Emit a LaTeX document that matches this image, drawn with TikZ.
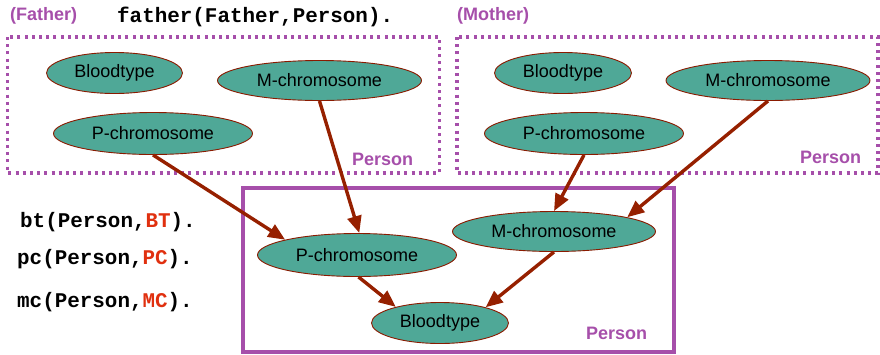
\documentclass[tikz,border=0pt]{standalone}
\usepackage{fontspec}
\setmainfont{Liberation Sans}
\newfontfamily\codefont{Liberation Mono}
\usetikzlibrary{shapes.geometric,arrows.meta}
\definecolor{plate}{HTML}{A64FAA}
\definecolor{varfill}{HTML}{4FA897}
\definecolor{varline}{HTML}{8A1A00}
\definecolor{dep}{HTML}{962000}
\definecolor{argred}{HTML}{E0300F}
\tikzset{
  var/.style={ellipse, draw=varline, line width=0.9pt, fill=varfill, inner sep=0pt,
    font=\fontsize{18}{20}\selectfont},
  dotplate/.style={draw=plate, line width=3.2pt, dash pattern=on 3pt off 4.2pt},
  solidplate/.style={draw=plate, line width=3.5pt},
  platelabel/.style={text=plate, font=\fontsize{18}{20}\selectfont\bfseries, inner sep=0pt, anchor=west},
  code/.style={font=\codefont\fontsize{20.9}{22}\selectfont\bfseries, inner sep=0pt, anchor=west},
  depend/.style={draw=dep, line width=3.4pt, -{Triangle[length=17pt,width=14pt]}},
}
\begin{document}
\begin{tikzpicture}[x=1pt,y=-1pt]
\useasboundingbox (0,0) rectangle (880,354);

% plates
\draw[dotplate] (7.5,37) rectangle (439.5,173);
\draw[dotplate] (457,37) rectangle (878,173);
\draw[solidplate] (243,188) rectangle (674,352);

% plate labels
\node[platelabel] (lf) at (10,16) {(Father)};
\node[platelabel] (lm) at (457,16) {(Mother)};
\node[platelabel] (pf) at (352,159) {Person};
\node[platelabel] (pm) at (800,157) {Person};
\node[platelabel] (pc) at (586,333) {Person};

% predicates
\node[code] (rel) at (117,17) {father(Father,Person).};
\node[code] (cbt) at (20,222) {bt(Person,\textcolor{argred}{BT}).};
\node[code] (cpc) at (17,259) {pc(Person,\textcolor{argred}{PC}).};
\node[code] (cmc) at (17,302) {mc(Person,\textcolor{argred}{MC}).};

% father variables
\node[var, minimum width=136pt, minimum height=41pt] (fB) at (114.5,73) {Bloodtype};
\node[var, minimum width=204pt, minimum height=40pt] (fM) at (319.5,80.5) {M-chromosome};
\node[var, minimum width=199pt, minimum height=42pt] (fP) at (153,133.5) {P-chromosome};

% mother variables
\node[var, minimum width=137pt, minimum height=41pt] (mB) at (563,73) {Bloodtype};
\node[var, minimum width=204pt, minimum height=40pt] (mM) at (768,80.5) {M-chromosome};
\node[var, minimum width=199pt, minimum height=42pt] (mP) at (584,133.5) {P-chromosome};

% child variables
\node[var, minimum width=199pt, minimum height=43pt] (cP) at (357,255) {P-chromosome};
\node[var, minimum width=203pt, minimum height=40pt] (cM) at (554,231.5) {M-chromosome};
\node[var, minimum width=137pt, minimum height=41pt] (cB) at (440,323) {Bloodtype};

% dependencies
\draw[depend] (fP.south) -- (cP.168);
\draw[depend] (fM.south) -- (cP.84);
\draw[depend] (mP.south) -- (cM.north);
\draw[depend] (mM.south) -- (cM.11);
\draw[depend] (cP.-86) -- (cB.160);
\draw[depend] (cM.south) -- (cB.19);
\end{tikzpicture}
\end{document}
